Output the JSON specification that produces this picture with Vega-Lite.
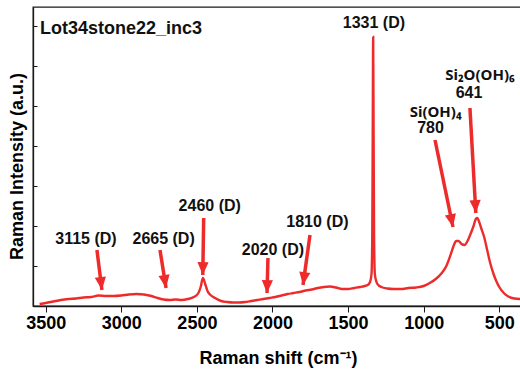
{
  "$schema": "https://vega.github.io/schema/vega-lite/v6.json",
  "width": 490,
  "height": 299,
  "autosize": {"type": "none"},
  "padding": {"left": 33, "top": 7, "right": 0, "bottom": 66},
  "background": "white",
  "config": {"view": {"stroke": "#1a1a1a", "strokeWidth": 1.3}, "font": "Liberation Sans"},
  "datasets": {
    "spectrum": [
      {"shift": 3540, "intensity": 2}, {"shift": 3500, "intensity": 3}, {"shift": 3450, "intensity": 4.5},
      {"shift": 3400, "intensity": 6}, {"shift": 3350, "intensity": 7}, {"shift": 3300, "intensity": 7.5},
      {"shift": 3250, "intensity": 8.5}, {"shift": 3200, "intensity": 9}, {"shift": 3150, "intensity": 10.5},
      {"shift": 3100, "intensity": 10}, {"shift": 3050, "intensity": 10}, {"shift": 3000, "intensity": 10.5},
      {"shift": 2950, "intensity": 11.5}, {"shift": 2900, "intensity": 12}, {"shift": 2850, "intensity": 11.5},
      {"shift": 2800, "intensity": 10}, {"shift": 2760, "intensity": 8}, {"shift": 2720, "intensity": 6.5},
      {"shift": 2680, "intensity": 6}, {"shift": 2640, "intensity": 6.5}, {"shift": 2600, "intensity": 6},
      {"shift": 2560, "intensity": 7}, {"shift": 2520, "intensity": 9}, {"shift": 2490, "intensity": 13},
      {"shift": 2475, "intensity": 19}, {"shift": 2460, "intensity": 28}, {"shift": 2445, "intensity": 22},
      {"shift": 2430, "intensity": 15}, {"shift": 2410, "intensity": 11}, {"shift": 2380, "intensity": 8},
      {"shift": 2340, "intensity": 5}, {"shift": 2300, "intensity": 4}, {"shift": 2260, "intensity": 3.5},
      {"shift": 2220, "intensity": 3.5}, {"shift": 2180, "intensity": 4}, {"shift": 2140, "intensity": 5},
      {"shift": 2100, "intensity": 6}, {"shift": 2060, "intensity": 7}, {"shift": 2020, "intensity": 8},
      {"shift": 1980, "intensity": 9}, {"shift": 1940, "intensity": 10.5}, {"shift": 1900, "intensity": 12},
      {"shift": 1860, "intensity": 13}, {"shift": 1820, "intensity": 14}, {"shift": 1780, "intensity": 15.5},
      {"shift": 1740, "intensity": 16.5}, {"shift": 1700, "intensity": 18}, {"shift": 1660, "intensity": 19},
      {"shift": 1620, "intensity": 19.5}, {"shift": 1580, "intensity": 18.5}, {"shift": 1540, "intensity": 17},
      {"shift": 1500, "intensity": 17}, {"shift": 1460, "intensity": 18}, {"shift": 1420, "intensity": 19},
      {"shift": 1390, "intensity": 20}, {"shift": 1370, "intensity": 21}, {"shift": 1355, "intensity": 24},
      {"shift": 1345, "intensity": 32}, {"shift": 1340, "intensity": 70}, {"shift": 1337, "intensity": 170},
      {"shift": 1334, "intensity": 269}, {"shift": 1331, "intensity": 170}, {"shift": 1328, "intensity": 70},
      {"shift": 1323, "intensity": 32}, {"shift": 1312, "intensity": 24}, {"shift": 1300, "intensity": 21},
      {"shift": 1280, "intensity": 19}, {"shift": 1240, "intensity": 17.5}, {"shift": 1200, "intensity": 17},
      {"shift": 1150, "intensity": 17}, {"shift": 1100, "intensity": 18}, {"shift": 1050, "intensity": 18.5},
      {"shift": 1000, "intensity": 20}, {"shift": 960, "intensity": 23}, {"shift": 920, "intensity": 27},
      {"shift": 880, "intensity": 33}, {"shift": 850, "intensity": 40}, {"shift": 820, "intensity": 52},
      {"shift": 800, "intensity": 61}, {"shift": 785, "intensity": 65}, {"shift": 770, "intensity": 65},
      {"shift": 750, "intensity": 62}, {"shift": 730, "intensity": 61}, {"shift": 710, "intensity": 65},
      {"shift": 690, "intensity": 72}, {"shift": 670, "intensity": 80}, {"shift": 655, "intensity": 87},
      {"shift": 645, "intensity": 88}, {"shift": 635, "intensity": 85}, {"shift": 620, "intensity": 78},
      {"shift": 600, "intensity": 69}, {"shift": 580, "intensity": 56}, {"shift": 560, "intensity": 43},
      {"shift": 540, "intensity": 33}, {"shift": 520, "intensity": 25}, {"shift": 500, "intensity": 19},
      {"shift": 470, "intensity": 13}, {"shift": 440, "intensity": 9.5}, {"shift": 400, "intensity": 7.5},
      {"shift": 360, "intensity": 7}
    ],
    "arrows": [
      {"x0": 3161, "y0": 56, "x1": 3128, "y1": 16},
      {"x0": 2744, "y0": 56, "x1": 2704, "y1": 18},
      {"x0": 2455, "y0": 88, "x1": 2461, "y1": 31},
      {"x0": 2030, "y0": 48, "x1": 2036, "y1": 13},
      {"x0": 1752, "y0": 71, "x1": 1798, "y1": 21},
      {"x0": 925, "y0": 166, "x1": 806, "y1": 79},
      {"x0": 694, "y0": 198, "x1": 655, "y1": 93}
    ],
    "labels": [
      {"x": 1329, "y": 278, "label": "1331 (D)"},
      {"x": 700, "y": 208, "label": "641"},
      {"x": 955, "y": 173, "label": "780"},
      {"x": 3234, "y": 62, "label": "3115 (D)"},
      {"x": 2720, "y": 62, "label": "2665 (D)"},
      {"x": 2415, "y": 95, "label": "2460 (D)"},
      {"x": 1997, "y": 51, "label": "2020 (D)"},
      {"x": 1703, "y": 79, "label": "1810 (D)"}
    ],
    "species": [
      {"x": 628, "y": 226, "label": "Si₂O(OH)₆"},
      {"x": 921, "y": 189, "label": "Si(OH)₄"}
    ],
    "title": [{"x": 3538, "y": 272, "label": "Lot34stone22_inc3"}]
  },
  "layer": [
    {
      "data": {"name": "spectrum"},
      "mark": {"type": "line", "color": "#ee2b2b", "strokeWidth": 2.4, "interpolate": "monotone"},
      "encoding": {
        "x": {
          "field": "shift", "type": "quantitative",
          "scale": {"domain": [3584, 343], "nice": false, "zero": false},
          "axis": {
            "title": "Raman shift (cm⁻¹)",
            "values": [3500, 3000, 2500, 2000, 1500, 1000, 500],
            "format": "d",
            "tickSize": 6,
            "labelFontSize": 18, "labelFontWeight": "bold", "labelColor": "black",
            "labelPadding": 2, "labelFlush": false, "labelOverlap": false,
            "titleFontSize": 18, "titleFontWeight": "bold", "titleColor": "black",
            "titleY": 57, "titleBaseline": "alphabetic",
            "domainColor": "#1a1a1a", "domainWidth": 1.3, "tickColor": "#1a1a1a", "tickWidth": 1,
            "grid": false
          }
        },
        "y": {
          "field": "intensity", "type": "quantitative",
          "scale": {"domain": [0, 299], "nice": false},
          "axis": {
            "title": "Raman Intensity (a.u.)",
            "values": [0, 40, 80, 120, 160, 200, 240, 280],
            "labels": false, "tickSize": -4, "tickColor": "#1a1a1a",
            "titleFontSize": 18, "titleFontWeight": "bold", "titleColor": "black",
            "titleX": -16, "titleY": 159, "titleAngle": 270, "titleAlign": "center", "titleBaseline": "middle",
            "domainColor": "#1a1a1a", "domainWidth": 1.3, "grid": false
          }
        }
      }
    },
    {
      "data": {"name": "arrows"},
      "mark": {"type": "rule", "color": "#ee2b2b", "strokeWidth": 3.5},
      "encoding": {
        "x": {"field": "x0", "type": "quantitative"},
        "y": {"field": "y0", "type": "quantitative"},
        "x2": {"field": "x1"},
        "y2": {"field": "y1"}
      }
    },
    {
      "data": {"name": "arrows"},
      "transform": [{"calculate": "-atan2((datum.x0 - datum.x1) * 0.1512, datum.y0 - datum.y1) * 180 / PI", "as": "angle"}],
      "mark": {"type": "point", "shape": "M0,0L-1.6,-3.7L1.6,-3.7Z", "filled": true, "color": "#ee2b2b", "size": 49, "opacity": 1},
      "encoding": {
        "x": {"field": "x1", "type": "quantitative"},
        "y": {"field": "y1", "type": "quantitative"},
        "angle": {"field": "angle", "type": "quantitative", "scale": null}
      }
    },
    {
      "data": {"name": "labels"},
      "mark": {"type": "text", "fontWeight": "bold", "fontSize": 16, "baseline": "alphabetic", "align": "center", "color": "#111"},
      "encoding": {
        "x": {"field": "x", "type": "quantitative"},
        "y": {"field": "y", "type": "quantitative"},
        "text": {"field": "label"}
      }
    },
    {
      "data": {"name": "species"},
      "mark": {"type": "text", "font": "Noto Sans", "fontWeight": "bold", "fontSize": 15, "baseline": "alphabetic", "align": "center", "color": "#111"},
      "encoding": {
        "x": {"field": "x", "type": "quantitative"},
        "y": {"field": "y", "type": "quantitative"},
        "text": {"field": "label"}
      }
    },
    {
      "data": {"name": "title"},
      "mark": {"type": "text", "fontWeight": "bold", "fontSize": 18, "baseline": "alphabetic", "align": "left", "color": "#111"},
      "encoding": {
        "x": {"field": "x", "type": "quantitative"},
        "y": {"field": "y", "type": "quantitative"},
        "text": {"field": "label"}
      }
    }
  ]
}
